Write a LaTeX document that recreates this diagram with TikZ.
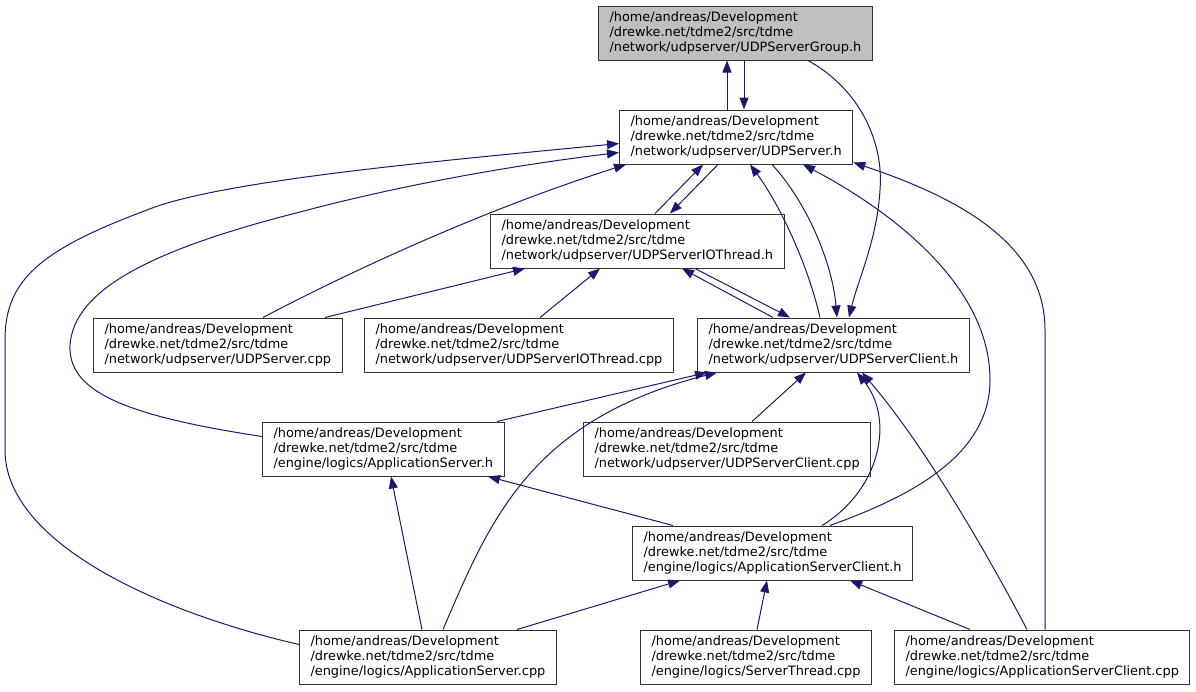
\documentclass[tikz,border=0pt]{standalone}
\usepackage{fontspec}
\setmainfont{DejaVu Sans}
\usetikzlibrary{arrows.meta,calc}
\definecolor{edgec}{HTML}{191970}
\begin{document}
\begin{tikzpicture}[x=1pt,y=-1pt,
  box/.style={draw=black!80, line width=1pt, fill=white, align=left,
    inner xsep=11pt, inner ysep=0pt, minimum height=54pt, anchor=west,
    font=\fontsize{12.9}{15}\selectfont},
  dep/.style={draw=edgec, line width=1pt, -{Triangle[length=12pt,width=9pt]}}]
\useasboundingbox (0,0) rectangle (1196,691);
\node[box, fill=black!25] (G) at (598,33) {/home/andreas/Development\\/drewke.net/tdme2/src/tdme\\/network/udpserver/UDPServerGroup.h};
\node[box] (S) at (619,137) {/home/andreas/Development\\/drewke.net/tdme2/src/tdme\\/network/udpserver/UDPServer.h};
\node[box] (T) at (490,241) {/home/andreas/Development\\/drewke.net/tdme2/src/tdme\\/network/udpserver/UDPServerIOThread.h};
\node[box] (P) at (93,345) {/home/andreas/Development\\/drewke.net/tdme2/src/tdme\\/network/udpserver/UDPServer.cpp};
\node[box] (Q) at (364,345) {/home/andreas/Development\\/drewke.net/tdme2/src/tdme\\/network/udpserver/UDPServerIOThread.cpp};
\node[box] (C) at (697,345) {/home/andreas/Development\\/drewke.net/tdme2/src/tdme\\/network/udpserver/UDPServerClient.h};
\node[box] (H) at (262,449) {/home/andreas/Development\\/drewke.net/tdme2/src/tdme\\/engine/logics/ApplicationServer.h};
\node[box] (R) at (583,449) {/home/andreas/Development\\/drewke.net/tdme2/src/tdme\\/network/udpserver/UDPServerClient.cpp};
\node[box] (A) at (632,553) {/home/andreas/Development\\/drewke.net/tdme2/src/tdme\\/engine/logics/ApplicationServerClient.h};
\node[box] (X) at (299,657) {/home/andreas/Development\\/drewke.net/tdme2/src/tdme\\/engine/logics/ApplicationServer.cpp};
\node[box] (Y) at (640,657) {/home/andreas/Development\\/drewke.net/tdme2/src/tdme\\/engine/logics/ServerThread.cpp};
\node[box] (Z) at (894,657) {/home/andreas/Development\\/drewke.net/tdme2/src/tdme\\/engine/logics/ApplicationServerClient.cpp};
% G <-> S
\draw[dep] ($(S.north west)+(108,0)$) -- ($(G.south west)+(129,0)$);
\draw[dep] ($(G.south west)+(146,0)$) -- ($(S.north west)+(125,0)$);
% G -> C
\draw[dep] ($(G.south west)+(210,0)$) .. controls (858,88) and (884,140) .. (880,190)
  .. controls (877,240) and (858,280) .. ($(C.north west)+(152,0)$);
% S <-> C
\draw[dep] ($(C.north west)+(123,0)$) .. controls (808,265) and (780,205) .. ($(S.south west)+(131,0)$);
\draw[dep] ($(S.south west)+(153,0)$) .. controls (805,200) and (832,260) .. ($(C.north west)+(140,0)$);
% S <-> T
\draw[dep] ($(T.north west)+(165,0)$) -- ($(S.south west)+(84,0)$);
\draw[dep] ($(S.south west)+(99,0)$) -- ($(T.north west)+(180,0)$);
% T <-> C
\draw[dep] ($(C.north west)+(76,0)$) -- ($(T.south west)+(192,0)$);
\draw[dep] ($(T.south west)+(205,0)$) -- ($(C.north west)+(93,0)$);
% UDPServer.cpp
\draw[dep] ($(P.north west)+(170,0)$) .. controls (330,282) and (470,214) .. ($(S.south west)+(7,0)$);
\draw[dep] ($(P.north west)+(232,0)$) -- ($(T.south west)+(35,0)$);
% UDPServerIOThread.cpp
\draw[dep] ($(Q.north west)+(176,0)$) -- ($(T.south west)+(110,0)$);
% ApplicationServer.cpp -> S (outer)
\draw[dep] ($(X.north west)+(0,15)$) .. controls (150,610) and (5,540) .. (5,450) -- (5,340)
  .. controls (5,280) and (40,250) .. (147,210) .. controls (220,180) and (450,160) .. ($(S.north west)+(0,34)$);
% ApplicationServer.h -> S (inner)
\draw[dep] ($(H.north west)+(0,15)$) .. controls (120,415) and (68,390) .. (70,345)
  .. controls (74,290) and (150,250) .. (300,212) .. controls (420,180) and (540,162) .. ($(S.north west)+(0,43)$);
% ApplicationServerClient.h -> S
\draw[dep] ($(A.north west)+(198,0)$) .. controls (900,500) and (990,460) .. (990,380)
  .. controls (990,280) and (880,205) .. ($(S.south west)+(184,0)$);
% ApplicationServerClient.cpp -> S
\draw[dep] ($(Z.north west)+(151,0)$) -- (1045,330) .. controls (1045,240) and (950,195) .. ($(S.south east)+(0,-2)$);
% -> C
\draw[dep] ($(H.north west)+(235,0)$) -- ($(C.south west)+(10,0)$);
\draw[dep] ($(X.north west)+(144,0)$) .. controls (490,520) and (530,420) .. ($(C.south west)+(20,0)$);
\draw[dep] ($(R.north west)+(169,0)$) -- ($(C.south west)+(109,0)$);
\draw[dep] ($(A.north west)+(190,0)$) .. controls (880,490) and (895,420) .. ($(C.south west)+(160,0)$);
\draw[dep] ($(Z.north west)+(133,0)$) .. controls (980,540) and (920,440) .. ($(C.south west)+(165,0)$);
% -> ApplicationServer.h
\draw[dep] ($(A.north west)+(41,0)$) -- ($(H.south west)+(226,0)$);
\draw[dep] ($(X.north west)+(123,0)$) -- ($(H.south west)+(129,0)$);
% -> ApplicationServerClient.h
\draw[dep] ($(X.north west)+(218,0)$) -- ($(A.south west)+(48,0)$);
\draw[dep] ($(Y.north west)+(117,0)$) -- ($(A.south west)+(135,0)$);
\draw[dep] ($(Z.north west)+(76,0)$) -- ($(A.south west)+(218,0)$);
\end{tikzpicture}
\end{document}
